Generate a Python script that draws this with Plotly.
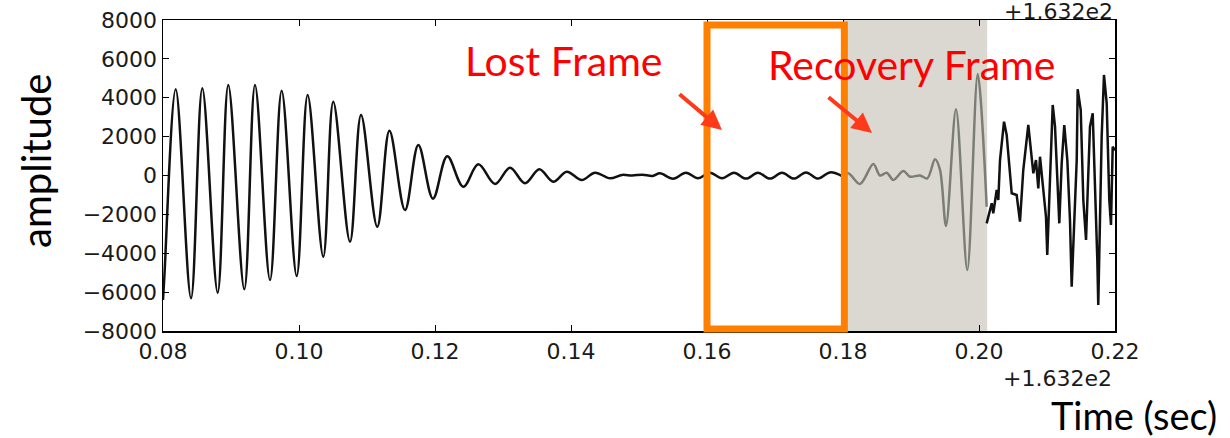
import plotly.graph_objects as go

# ---- data (time offsets from 163.2 s, amplitude) ----
t_pre = [0.0800, 0.0802, 0.08187, 0.08412, 0.08578, 0.08804, 0.08960, 0.09196, 0.09353, 0.09574,
         0.09745, 0.09966, 0.10127, 0.10357, 0.10504, 0.10750, 0.10912, 0.11151, 0.11330, 0.11559,
         0.11755, 0.11970, 0.12180, 0.12416, 0.12637, 0.12882, 0.13103, 0.13324, 0.13534, 0.13740,
         0.13937, 0.14157, 0.14353, 0.14574, 0.14750, 0.14900, 0.15050, 0.15200, 0.15309, 0.15500,
         0.15691, 0.15868, 0.16044, 0.16221, 0.16397, 0.16574, 0.16750, 0.16926, 0.17103, 0.17279,
         0.17456, 0.17632, 0.17809, 0.18000]
a_pre = [-6400, -5200, 4435, -6318, 4486, -6030, 4656, -5855, 4656, -5377,
         4363, -5171, 4142, -4178, 3797, -3406, 3113, -2634, 2300, -1775,
         1569, -1190, 990, -576, 576, -437, 401, -401, 319, -319,
         196, -231, 144, -144, 30, 0, 40, -20, 113, -164,
         144, -144, 144, -144, 144, -160, 144, -160, 144, -160,
         160, -160, 160, -60]

t_rec = [0.18000, 0.18078, 0.18250, 0.18446, 0.18544, 0.18643, 0.18740, 0.18887, 0.18985, 0.19132,
         0.19240, 0.19353, 0.19426, 0.19515, 0.19662, 0.19828, 0.19981, 0.20113]
a_rec = [-60, 113, -437, 591, 0, 144, -231, 231, -62, 0,
         -144, 833, 300, -2598, 3406, -4862, 5222, -1605]

t_post = [0.20113, 0.20187, 0.20210, 0.20260, 0.20284, 0.20309, 0.20368, 0.20407, 0.20481, 0.20554,
          0.20603, 0.20651, 0.20725, 0.20799, 0.20838, 0.20872, 0.20897, 0.20946, 0.20985, 0.21004,
          0.21034, 0.21084, 0.21118, 0.21181, 0.21216, 0.21254, 0.21299, 0.21338, 0.21363, 0.21397,
          0.21437, 0.21451, 0.21496, 0.21534, 0.21574, 0.21599, 0.21632, 0.21672, 0.21706, 0.21740,
          0.21754, 0.21779, 0.21804, 0.21838, 0.21878, 0.21916, 0.21941, 0.21966, 0.22000]
a_post = [-2460, -1430, -1945, -746, -1260, 797, 2768, 2084, -916, -1003,
          -2377, 283, 2598, 113, 797, -659, 967, -833, -2120, -4090,
          -1090, 3627, 2511, -2460, 627, 2598, 797, -2290, -5721, -2634,
          797, 4435, 3370, -1260, -3318, -746, 2511, 3200, -231, -4348,
          -6663, -2974, 1996, 5171, 3715, -1260, -2547, 1482, 1300]

x_ticks = [0.08, 0.10, 0.12, 0.14, 0.16, 0.18, 0.20, 0.22]
y_ticks = [-8000, -6000, -4000, -2000, 0, 2000, 4000, 6000, 8000]
y_tick_text = [("\u2212" + str(abs(v))) if v < 0 else str(v) for v in y_ticks]
offset_text = "+1.632e2"
lost_start, lost_end = 0.16, 0.18
rec_start, rec_end = 0.18, 0.2012

# ---- layout geometry (pixels) ----
W, H = 1230, 438
PL, PT, PW, PH = 163, 20, 952, 311          # plot area
L, T = PL, PT
R, B = W - L - PW, H - T - PH


def px(x):
    return (x - PL) / PW


def py(y):
    return 1 - (y - PT) / PH


fig = go.Figure()
fig.add_trace(go.Scatter(x=t_pre, y=a_pre, mode="lines",
                         line=dict(color="#111111", width=2.5, shape="spline", smoothing=1.0),
                         hoverinfo="skip", showlegend=False))
fig.add_trace(go.Scatter(x=t_rec, y=a_rec, mode="lines",
                         line=dict(color="#7d7d78", width=2.5, shape="spline", smoothing=0.9),
                         hoverinfo="skip", showlegend=False))
fig.add_trace(go.Scatter(x=t_post, y=a_post, mode="lines",
                         line=dict(color="#111111", width=2.5),
                         hoverinfo="skip", showlegend=False))

# shaded recovery frame
fig.add_shape(type="rect", xref="x", yref="paper", x0=rec_start, x1=rec_end, y0=0, y1=1,
              fillcolor="rgb(218,216,209)", line=dict(width=0), layer="below")
# orange lost-frame box
fig.add_shape(type="rect", xref="x", yref="paper", x0=lost_start, x1=lost_end + 0.0002,
              y0=py(329), y1=py(25), line=dict(color="#FF7F00", width=7), layer="above")

tick_font = dict(family="DejaVu Sans", size=22, color="#1a1a1a")
ann_font = "Lato, Open Sans, sans-serif"

annotations = [
    dict(text=offset_text, x=1.0, y=py(11), xref="paper", yref="paper", xanchor="right",
         yanchor="middle", showarrow=False, font=tick_font),
    dict(text=offset_text, x=px(1114), y=py(378), xref="paper", yref="paper", xanchor="right",
         yanchor="middle", showarrow=False, font=tick_font),
    dict(text="Time (sec)", x=px(1219), y=py(415), xref="paper", yref="paper", xanchor="right",
         yanchor="middle", showarrow=False, font=dict(family=ann_font, size=38, color="#000000")),
    dict(text="amplitude", x=px(36), y=py(161), xref="paper", yref="paper", xanchor="center",
         yanchor="middle", textangle=-90, showarrow=False,
         font=dict(family=ann_font, size=40, color="#000000")),
    dict(text="Lost Frame", x=px(463), y=py(60), xref="paper", yref="paper", xanchor="left",
         yanchor="middle", showarrow=False, font=dict(family=ann_font, size=41, color="#FF0000")),
    dict(text="Recovery Frame", x=px(766), y=py(64), xref="paper", yref="paper", xanchor="left",
         yanchor="middle", showarrow=False, font=dict(family=ann_font, size=41, color="#FF0000")),
    dict(text="", x=px(722), y=py(130), xref="paper", yref="paper", ax=-44, ay=-37,
         showarrow=True, arrowhead=2, arrowsize=1, arrowwidth=4, arrowcolor="#FF3A1A"),
    dict(text="", x=px(872), y=py(133), xref="paper", yref="paper", ax=-45, ay=-37,
         showarrow=True, arrowhead=2, arrowsize=1, arrowwidth=4, arrowcolor="#FF3A1A"),
]

fig.update_layout(
    width=W, height=H,
    margin=dict(l=L, r=R, t=T, b=B, autoexpand=False),
    paper_bgcolor="white", plot_bgcolor="white",
    annotations=annotations,
    xaxis=dict(range=[0.08, 0.22], tickvals=x_ticks, tickformat=".2f",
               ticks="inside", ticklen=6, tickwidth=1, tickcolor="#000000",
               showline=True, linecolor="#000000", linewidth=1.5, mirror="allticks",
               showgrid=False, zeroline=False, tickfont=tick_font, automargin=False),
    yaxis=dict(range=[-8000, 8000], tickvals=y_ticks, ticktext=y_tick_text,
               ticks="inside", ticklen=6, tickwidth=1, tickcolor="#000000",
               showline=True, linecolor="#000000", linewidth=1.5, mirror="allticks",
               showgrid=False, zeroline=False, tickfont=tick_font, automargin=False),
)

# remove the browser's default 8px body margin so the figure sits at the page origin
fig.write_html("out.html",
               config={"displayModeBar": False, "staticPlot": True},
               post_script="document.body.style.margin='0';document.body.style.overflow='hidden';")
